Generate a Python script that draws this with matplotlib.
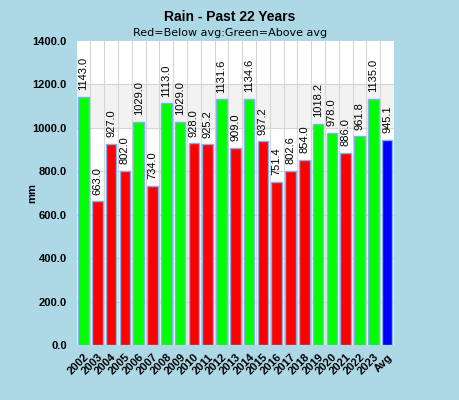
import matplotlib
matplotlib.use("Agg")
import matplotlib.pyplot as plt
import numpy as np

# yearly rainfall, last entry is the average
years = [str(y) for y in range(2002, 2024)] + ["Avg"]
rain = [1143.0, 663.0, 927.0, 802.0, 1029.0, 734.0, 1113.0, 1029.0, 928.0, 925.2,
        1131.6, 909.0, 1134.6, 937.2, 751.4, 802.6, 854.0, 1018.2, 978.0, 886.0,
        961.8, 1135.0, 945.1]
y_ticks = [0, 200, 400, 600, 800, 1000, 1200, 1400]

plt.rcParams['font.family'] = ['Liberation Sans', 'DejaVu Sans']

avg = rain[-1]
colors = ["#00ff00" if v > avg else "#ff0000" for v in rain[:-1]] + ["#0000ff"]

fig = plt.figure(figsize=(4.6, 4.0), dpi=100, facecolor="#add8e6")
ax = fig.add_axes([0.1665, 0.1375, 0.69, 0.76])
ax.set_facecolor("white")

x = np.arange(len(years))
ax.axhspan(1000, 1200, color="#f2f2f2", zorder=0)
for yv in y_ticks[1:-1]:
    ax.axhline(yv, color="#d6d6d6", lw=0.8, zorder=1)
for xv in x[:-1] + 0.5:
    ax.axvline(xv, color="#d6d6d6", lw=0.8, zorder=1)

ax.bar(x, rain, width=0.78, color=colors, edgecolor="#7fb2f0", linewidth=1, zorder=2)

for xi, v in zip(x, rain):
    ax.text(xi, v + 30, f"{v:.1f}", rotation=90, ha="center", va="bottom",
            fontsize=8, color="black", zorder=3)

ax.set_xlim(-0.5, len(years) - 0.5)
ax.set_ylim(0, 1400)
ax.set_yticks(y_ticks)
ax.set_yticklabels([f"{t:.1f}" for t in y_ticks], fontsize=8, fontweight="bold")
ax.set_xticks(x)
ax.set_xticklabels(years, rotation=45, ha="right", rotation_mode="anchor",
                   fontsize=8, fontweight="bold")
ax.tick_params(axis="y", length=0, pad=7)
ax.tick_params(axis="x", length=0, pad=5)
for s in ax.spines.values():
    s.set_visible(False)

ax.set_ylabel("mm", fontsize=8, fontweight="bold")
ax.yaxis.set_label_coords(-0.125, 0.5)

fig.text(0.5, 0.975, "Rain - Past 22 Years", ha="center", va="top",
         fontsize=10, fontweight="bold")
fig.text(0.5, 0.93, "Red=Below avg:Green=Above avg", ha="center", va="top",
         fontsize=8, family="DejaVu Sans")

fig.savefig("out.png", dpi=100, facecolor=fig.get_facecolor())
